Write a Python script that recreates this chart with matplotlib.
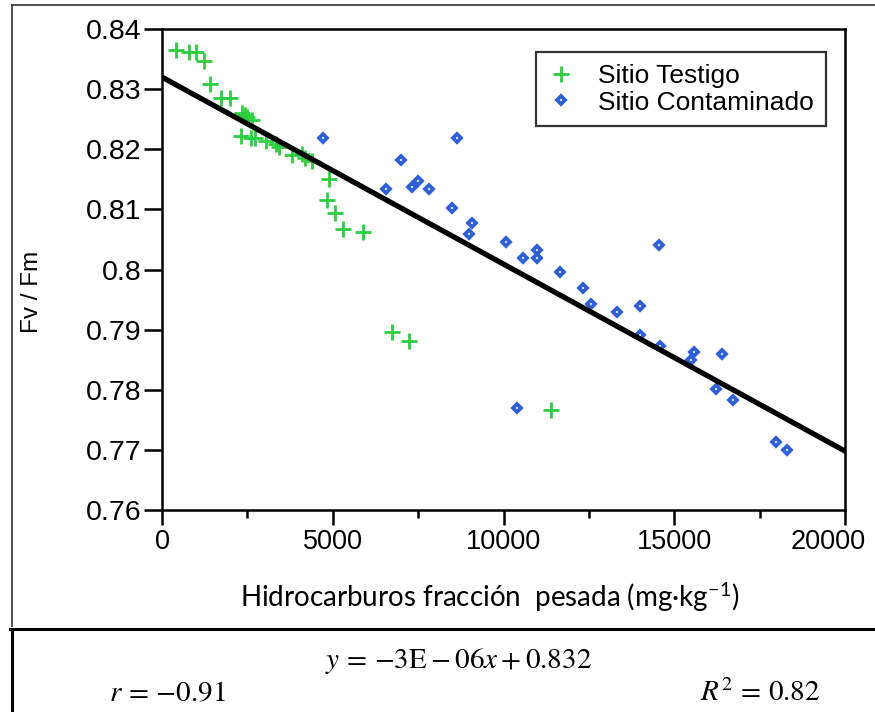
import numpy as np
import matplotlib
matplotlib.use("Agg")
import matplotlib.pyplot as plt
from matplotlib.lines import Line2D
from matplotlib.transforms import ScaledTranslation

# Sitio Testigo (green crosses)
testigo_x = [410, 800, 1000, 1230, 1405, 1720, 1990, 2335, 2430, 2480, 2625,
             2315, 2600, 2725, 3045, 3340, 3435, 3800, 4090, 4190, 4385,
             4900, 4820, 5065, 5310, 5895, 6735, 7230, 11390]
testigo_y = [0.8365, 0.8361, 0.8361, 0.8347, 0.8308, 0.8285, 0.8285, 0.8260,
             0.8257, 0.8253, 0.8248, 0.8222, 0.8219, 0.8219, 0.8213, 0.8209,
             0.8203, 0.8190, 0.8192, 0.8185, 0.8180, 0.8150, 0.8116, 0.8094,
             0.8067, 0.8063, 0.7896, 0.7881, 0.7766]

# Sitio Contaminado (blue diamonds)
contam_x = [4725, 8645, 6990, 6560, 7310, 7490, 7820, 8480, 9070, 8990,
            10065, 10560, 10980, 10980, 14560, 11645, 12320, 12570, 13315,
            13985, 13995, 14580, 15570, 15480, 16400, 16220, 16730, 17980,
            18310, 10395]
contam_y = [0.8218, 0.8218, 0.8182, 0.8134, 0.8138, 0.8147, 0.8134, 0.8103,
            0.8077, 0.8059, 0.8045, 0.8019, 0.8032, 0.8019, 0.8041, 0.7996,
            0.7970, 0.7943, 0.7930, 0.7939, 0.7891, 0.7873, 0.7863, 0.7850,
            0.7859, 0.7801, 0.7783, 0.7713, 0.7699, 0.7770]

# regression line
slope = -3.11e-06
intercept = 0.832
line_x = np.array([0, 20000])

xticks = [0, 5000, 10000, 15000, 20000]
yticks = [0.76, 0.77, 0.78, 0.79, 0.8, 0.81, 0.82, 0.83, 0.84]
ytick_labels = ["0.76", "0.77", "0.78", "0.79", "0.8", "0.81", "0.82", "0.83", "0.84"]

plt.rcParams['font.family'] = ['Liberation Sans', 'DejaVu Sans']
plt.rcParams['mathtext.fontset'] = 'stix'

fig = plt.figure(figsize=(8.75, 7.12), dpi=100)
ax = fig.add_axes([162/875, 1 - 510/712, 683/875, 481/712])

ax.plot(testigo_x, testigo_y, linestyle='none', marker='+', markersize=11,
        markeredgewidth=2, color='#2ecc40', label='Sitio Testigo', zorder=3)
ax.plot(contam_x, contam_y, linestyle='none', marker='D', markersize=4.2,
        markerfacecolor='white', markeredgewidth=2.7, markeredgecolor='#2e5fd6',
        label='Sitio Contaminado', zorder=3)
ax.plot(line_x, slope * line_x + intercept, color='black', linewidth=3.8, zorder=4)

ax.set_xlim(0, 20000)
ax.set_ylim(0.76, 0.84)
ax.set_xticks(xticks)
ax.set_xticks([2500, 7500, 12500, 17500], minor=True)
ax.set_yticks(yticks)
ax.set_yticklabels(ytick_labels)
ax.tick_params(axis='x', which='major', direction='out', length=11, width=1.8,
               labelsize=19.5, pad=3)
ax.tick_params(axis='y', which='major', direction='out', length=13, width=1.8,
               labelsize=20.5, pad=2)
ax.tick_params(axis='x', which='minor', direction='out', length=6, width=1.8)
for s in ax.spines.values():
    s.set_linewidth(1.8)

# last x label sits a bit left of its tick, as in the original
last = ax.get_xticklabels()[-1]
last.set_transform(last.get_transform() + ScaledTranslation(-0.17, 0, fig.dpi_scale_trans))

leg = ax.legend(loc='upper right', bbox_to_anchor=(826/875, 1 - 52/712),
                bbox_transform=fig.transFigure, fontsize=19, frameon=True,
                fancybox=False, edgecolor='black', handlelength=1.0,
                handletextpad=0.9, borderpad=0.45, labelspacing=0.1,
                borderaxespad=0)
leg.get_frame().set_linewidth(1.6)

fig.text(32/875, 1 - 292/712, 'Fv / Fm', rotation=90, ha='center', va='center',
         fontsize=17.5)
fig.text(490/875, 1 - 597/712, 'Hidrocarburos fracción  pesada (mg·kg$^{\\mathregular{-1}}$)',
         ha='center', va='center', fontsize=20, family=['Lato', 'DejaVu Sans'])

# formula area
fig.text(458/875, 1 - 661/712, r'$y\, =\, {-}3\mathrm{E} - 06x + 0.832$',
         ha='center', va='center', fontsize=21)
fig.text(167/875, 1 - 693/712, r'$r\, =\, {-}0.91$', ha='center', va='center', fontsize=21)
fig.text(760/875, 1 - 693/712, r'$R^2\, =\, 0.82$', ha='center', va='center', fontsize=21)

# outer frames
fig.add_artist(Line2D([12/875, 1], [1 - 5/712, 1 - 5/712], color='#333333', lw=1.2))
fig.add_artist(Line2D([12/875, 12/875], [1 - 5/712, 1 - 626/712], color='#333333', lw=1.2))
fig.add_artist(Line2D([10/875, 1], [1 - 629/712, 1 - 629/712], color='black', lw=2.2))
fig.add_artist(Line2D([12/875, 12/875], [1 - 631/712, 0], color='black', lw=2.2))

fig.savefig('out.png', dpi=100)
